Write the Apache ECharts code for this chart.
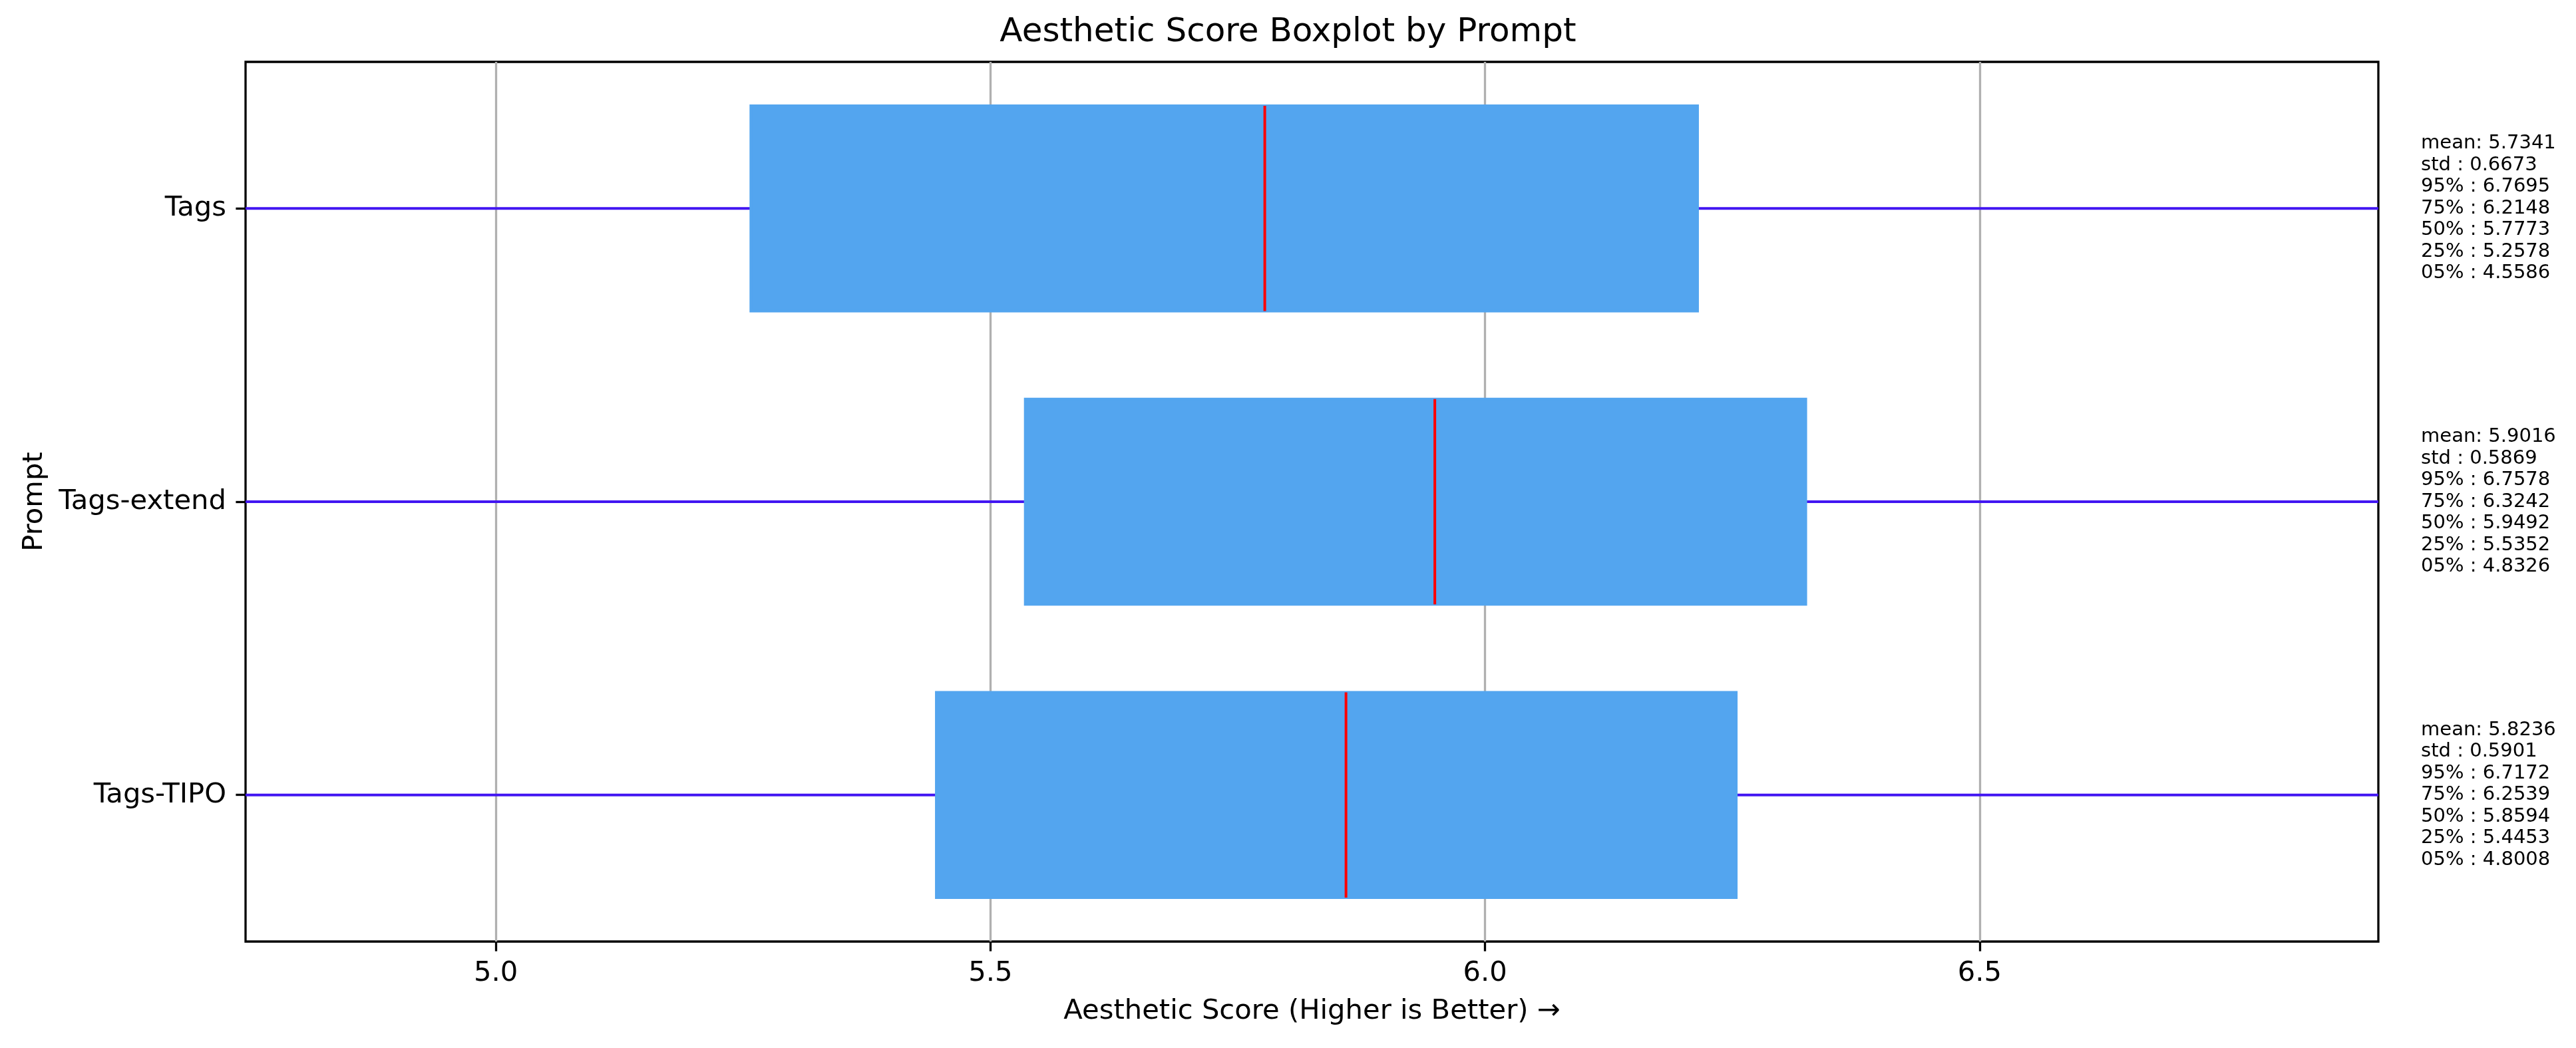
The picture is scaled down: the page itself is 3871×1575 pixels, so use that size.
<!DOCTYPE html>
<html>
<head>
<meta charset="utf-8">
<script src="https://cdn.jsdelivr.net/npm/echarts@6/dist/echarts.min.js"></script>
<style>
  html, body { margin: 0; padding: 0; background: #fff; }
  #chart { width: 3871px; height: 1575px; }
</style>
</head>
<body>
<div id="chart"></div>
<script>
  // prompts, top to bottom
  const categories = ['Tags', 'Tags-extend', 'Tags-TIPO'];

  // summary stats (read from the annotations)
  const meanVals = [5.7341, 5.9016, 5.8236];
  const stdVals = [0.6673, 0.5869, 0.5901];
  const p95 = [6.7695, 6.7578, 6.7172];
  const p75 = [6.2148, 6.3242, 6.2539];
  const p50 = [5.7773, 5.9492, 5.8594];
  const p25 = [5.2578, 5.5352, 5.4453];
  const p05 = [4.5586, 4.8326, 4.8008];

  // whisker ends run past the visible range (estimated)
  const whiskerLow = [2.9, 3.1, 3.0];
  const whiskerHigh = [7.6, 7.5, 7.5];

  const xTicks = [5.0, 5.5, 6.0, 6.5];
  const xMin = 4.747;
  const xMax = 6.903;

  const FONT = 'DejaVu Sans';

  const rows = categories.map((c, i) => [i, whiskerLow[i], p25[i], p50[i], p75[i], whiskerHigh[i]]);

  function statText(i) {
    return [
      'mean: ' + meanVals[i].toFixed(4),
      'std : ' + stdVals[i].toFixed(4),
      '95% : ' + p95[i].toFixed(4),
      '75% : ' + p75[i].toFixed(4),
      '50% : ' + p50[i].toFixed(4),
      '25% : ' + p25[i].toFixed(4),
      '05% : ' + p05[i].toFixed(4)
    ].join('\n');
  }

  function renderBox(params, api) {
    const idx = api.value(0);
    const cs = params.coordSys;
    const lo = api.coord([api.value(1), idx]);
    const q1 = api.coord([api.value(2), idx]);
    const med = api.coord([api.value(3), idx]);
    const q3 = api.coord([api.value(4), idx]);
    const hi = api.coord([api.value(5), idx]);
    const band = api.size([0, 1])[1];
    const h = band * 0.7;
    const cy = q1[1];
    const wl = echarts.graphic.clipPointsByRect([lo, hi], cs);

    return {
      type: 'group',
      children: [
        {
          type: 'line',
          shape: { x1: wl[0][0], y1: wl[0][1], x2: wl[1][0], y2: wl[1][1] },
          style: { stroke: '#4216f2', lineWidth: 4 }
        },
        {
          type: 'rect',
          shape: { x: q1[0], y: cy - h / 2, width: q3[0] - q1[0], height: h },
          style: { fill: '#53a5ef', stroke: '#53a5ef', lineWidth: 4 }
        },
        {
          type: 'line',
          shape: { x1: med[0], y1: cy - h / 2, x2: med[0], y2: cy + h / 2 },
          style: { stroke: '#ff0000', lineWidth: 4 }
        },
        {
          type: 'text',
          x: cs.x + cs.width * 1.02,
          y: cy,
          style: {
            text: statText(params.dataIndex),
            fontFamily: FONT,
            fontSize: 29,
            lineHeight: 32.5,
            fill: '#000',
            align: 'left',
            verticalAlign: 'middle'
          }
        }
      ]
    };
  }

  const chart = echarts.init(document.getElementById('chart'));
  chart.setOption({
    animation: false,
    backgroundColor: '#fff',
    title: {
      text: 'Aesthetic Score Boxplot by Prompt',
      left: 'center',
      top: 24,
      padding: 0,
      textStyle: { fontFamily: FONT, fontSize: 50, fontWeight: 'normal', color: '#000' }
    },
    grid: {
      left: 369, top: 93, width: 3205, height: 1322,
      show: true, borderColor: '#000', borderWidth: 3.3, backgroundColor: 'transparent'
    },
    xAxis: {
      type: 'value',
      min: xMin,
      max: xMax,
      name: 'Aesthetic Score (Higher is Better) \u2192',
      nameLocation: 'middle',
      nameGap: 84,
      nameTextStyle: { fontFamily: FONT, fontSize: 41.7, color: '#000' },
      axisLine: { show: false },
      axisTick: { show: true, length: 14.6, customValues: xTicks, lineStyle: { color: '#000', width: 3.3 } },
      axisLabel: {
        customValues: xTicks,
        margin: 27,
        fontFamily: FONT, fontSize: 41.7, color: '#000',
        formatter: v => v.toFixed(1)
      },
      splitLine: { show: true, lineStyle: { color: '#b0b0b0', width: 3.3 } }
    },
    yAxis: {
      type: 'category',
      data: categories,
      inverse: true,
      name: 'Prompt',
      nameLocation: 'middle',
      nameGap: 296,
      nameTextStyle: { fontFamily: FONT, fontSize: 41.7, color: '#000' },
      axisLine: { show: false },
      axisTick: { show: true, alignWithLabel: true, length: 14.6, lineStyle: { color: '#000', width: 3.3 } },
      axisLabel: { margin: 29, fontFamily: FONT, fontSize: 41.7, color: '#000' },
      splitLine: { show: false }
    },
    series: [{
      type: 'custom',
      renderItem: renderBox,
      encode: { x: [1, 2, 3, 4, 5], y: 0 },
      data: rows
    }]
  });
</script>
</body>
</html>
